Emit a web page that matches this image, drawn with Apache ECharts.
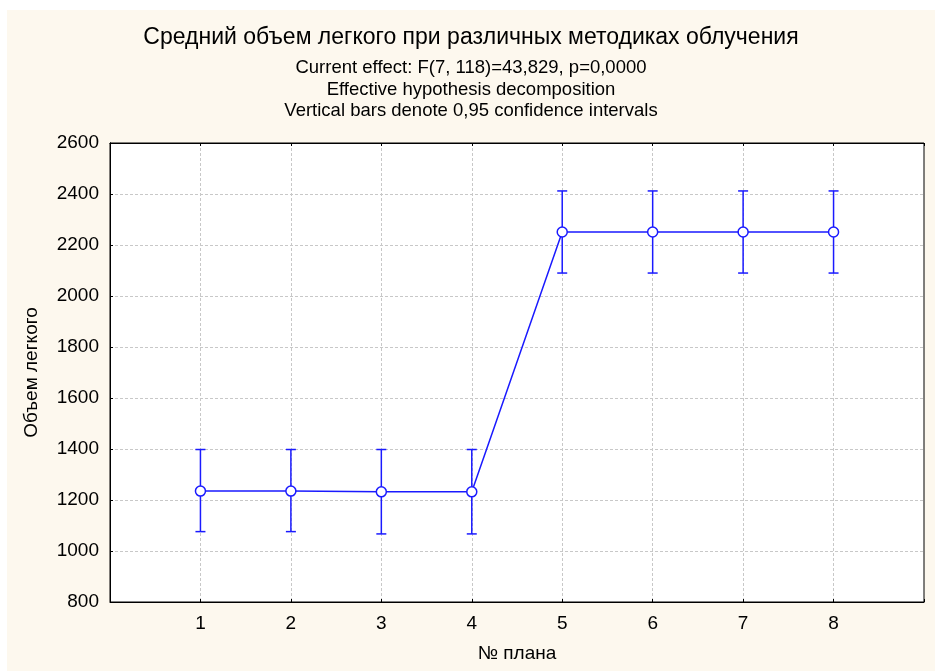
<!DOCTYPE html>
<html>
<head>
<meta charset="utf-8">
<script src="https://cdn.jsdelivr.net/npm/echarts@6/dist/echarts.min.js"></script>
<style>
html, body { margin: 0; padding: 0; background: #ffffff; }
#chart { position: absolute; left: 7px; top: 10px; width: 928px; height: 661px; }
</style>
</head>
<body>
<div id="chart"></div>
<script>
// данные графика
var plans = [1, 2, 3, 4, 5, 6, 7, 8];
var means = [1235, 1235, 1232, 1232, 2251, 2251, 2251, 2251];
var lower = [1076, 1076, 1067, 1067, 2090, 2090, 2090, 2090];
var upper = [1398, 1398, 1398, 1398, 2412, 2412, 2412, 2412];
var yTicks = [800, 1000, 1200, 1400, 1600, 1800, 2000, 2200, 2400, 2600];

var chart = echarts.init(document.getElementById('chart'));

var lineData = [];
var errData = [];
for (var i = 0; i < plans.length; i++) {
    lineData.push([plans[i], means[i]]);
    errData.push([plans[i], lower[i], upper[i]]);
}

var font = 'Arial, "Liberation Sans", sans-serif';

option = {
    backgroundColor: '#fdf8ee',
    animation: false,
    title: [{
        text: 'Средний объем легкого при различных методиках облучения',
        left: 'center', top: 11,
        textStyle: { fontFamily: font, fontSize: 23, fontWeight: 'normal', color: '#000' }
    }, {
        text: 'Current effect: F(7, 118)=43,829, p=0,0000',
        left: 'center', top: 43,
        textStyle: { fontFamily: font, fontSize: 18.5, fontWeight: 'normal', color: '#000' }
    }, {
        text: 'Effective hypothesis decomposition',
        left: 'center', top: 65,
        textStyle: { fontFamily: font, fontSize: 18.5, fontWeight: 'normal', color: '#000' }
    }, {
        text: 'Vertical bars denote 0,95 confidence intervals',
        left: 'center', top: 86,
        textStyle: { fontFamily: font, fontSize: 18.5, fontWeight: 'normal', color: '#000' }
    }],
    grid: {
        left: 103, top: 133, right: 11, bottom: 69,
        show: true, backgroundColor: '#ffffff', borderColor: '#000', borderWidth: 1
    },
    xAxis: [{
        type: 'value', min: 0, max: 9, interval: 1,
        name: '№ плана', nameLocation: 'middle', nameGap: 42,
        nameTextStyle: { fontFamily: font, fontSize: 19, color: '#000' },
        axisLine: { show: true, lineStyle: { color: '#000' } },
        axisTick: { show: true, inside: true, length: 3, lineStyle: { color: '#000' } },
        axisLabel: {
            fontFamily: font, fontSize: 19, color: '#000', margin: 12,
            formatter: function (v) { return (v >= 1 && v <= 8) ? String(v) : ''; }
        },
        splitLine: { show: true, showMinLine: false, showMaxLine: false, lineStyle: { color: '#c8c8c8', type: [3, 2] } }
    }, {
        type: 'value', min: 0, max: 9, interval: 1, position: 'top',
        axisLine: { show: true, lineStyle: { color: '#000' } },
        axisTick: { show: true, inside: true, length: 3, lineStyle: { color: '#000' } },
        axisLabel: { show: false },
        splitLine: { show: false }
    }],
    yAxis: [{
        type: 'value', min: 800, max: 2600, interval: 200,
        name: 'Объем легкого', nameLocation: 'middle', nameGap: 69,
        nameTextStyle: { fontFamily: font, fontSize: 19, color: '#000' },
        axisLine: { show: true, lineStyle: { color: '#000' } },
        axisTick: { show: true, inside: true, length: 3, lineStyle: { color: '#000' } },
        axisLabel: {
            fontFamily: font, fontSize: 19, color: '#000', margin: 11,
            formatter: function (v) { return yTicks.indexOf(v) >= 0 ? String(v) : ''; }
        },
        splitLine: { show: true, showMinLine: false, showMaxLine: false, lineStyle: { color: '#c8c8c8', type: [3, 2] } }
    }, {
        type: 'value', min: 800, max: 2600, interval: 200, position: 'right',
        axisLine: { show: true, lineStyle: { color: '#000' } },
        axisTick: { show: false },
        axisLabel: { show: false },
        splitLine: { show: false }
    }],
    series: [{
        type: 'custom',
        name: 'ci',
        xAxisIndex: 0, yAxisIndex: 0,
        z: 2,
        renderItem: function (params, api) {
            var x = api.value(0);
            var lo = api.coord([x, api.value(1)]);
            var hi = api.coord([x, api.value(2)]);
            var half = 5;
            var style = { stroke: '#1a1aff', lineWidth: 1.5, fill: null };
            return {
                type: 'group',
                children: [
                    { type: 'line', shape: { x1: lo[0], y1: lo[1], x2: hi[0], y2: hi[1] }, style: style },
                    { type: 'line', shape: { x1: lo[0] - half, y1: lo[1], x2: lo[0] + half, y2: lo[1] }, style: style },
                    { type: 'line', shape: { x1: hi[0] - half, y1: hi[1], x2: hi[0] + half, y2: hi[1] }, style: style }
                ]
            };
        },
        encode: { x: 0, y: [1, 2] },
        data: errData
    }, {
        type: 'line',
        name: 'mean',
        xAxisIndex: 0, yAxisIndex: 0,
        z: 3,
        symbol: 'circle',
        symbolSize: 10,
        lineStyle: { color: '#1a1aff', width: 1.5 },
        itemStyle: { color: '#ffffff', borderColor: '#1a1aff', borderWidth: 1.5 },
        data: lineData
    }]
};

chart.setOption(option);
</script>
</body>
</html>
